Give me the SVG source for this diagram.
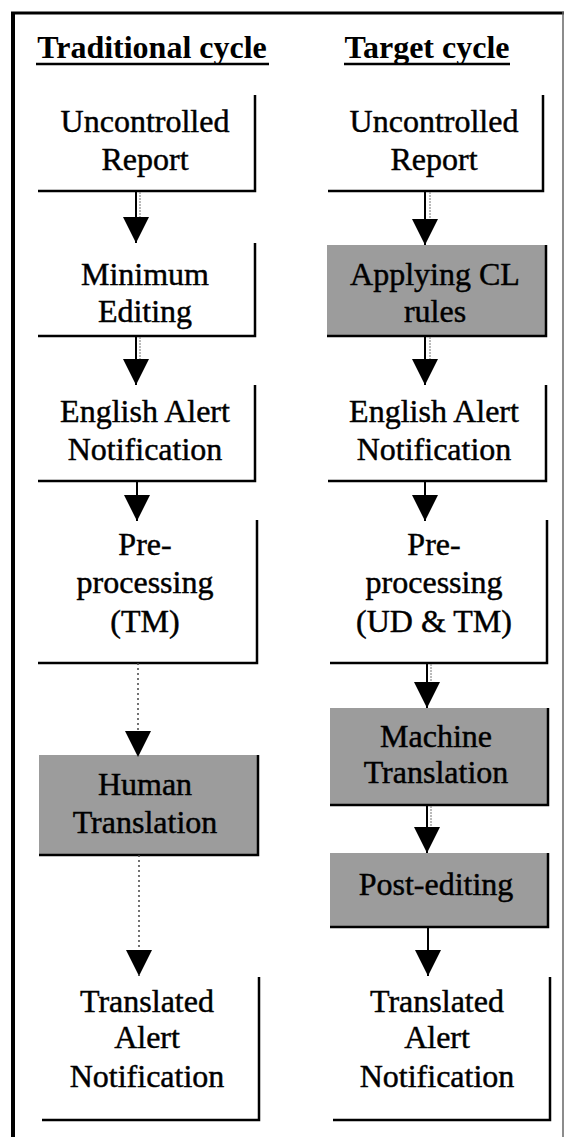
<svg xmlns="http://www.w3.org/2000/svg" width="568" height="1137" viewBox="0 0 568 1137">
  <defs>
    <style>
      .lbl { font-family: "Liberation Serif", "Times New Roman", serif; font-size: 32px; fill: #000; stroke: #000; stroke-width: 0.45; text-anchor: middle; }
      .title { font-family: "Liberation Serif", "Times New Roman", serif; font-size: 32px; font-weight: bold; fill: #000; text-anchor: middle; }
      .rule { stroke: #000; stroke-width: 2.5; }
      .edge { fill: none; stroke: #000; stroke-width: 2.5; }
      .shade { fill: #9c9c9c; stroke: none; }
      .flow { fill: none; stroke: #000; stroke-width: 2; }
      .flow-dot { fill: none; stroke: #444; stroke-width: 1.5; stroke-dasharray: 2 3; }
      .ghost { fill: none; stroke: #777; stroke-width: 1; stroke-dasharray: 2 1; }
    </style>
    <marker id="head" markerUnits="userSpaceOnUse" markerWidth="26" markerHeight="26" viewBox="0 0 26 26" refX="26" refY="13" orient="auto">
      <path d="M0,0 L26,13 L0,26 Z" fill="#000"/>
    </marker>
  </defs>

  <rect width="568" height="1137" fill="#fff"/>

  <!-- outer frame -->
  <g id="frame">
    <line x1="13" y1="12" x2="13" y2="1137" stroke="#000" stroke-width="4"/>
    <line x1="11" y1="13" x2="564" y2="13" stroke="#000" stroke-width="3"/>
    <line x1="563" y1="12" x2="563" y2="1137" stroke="#666" stroke-width="1.5"/>
  </g>

  <!-- column headings -->
  <g id="heading-traditional">
    <text class="title" x="152" y="58">Traditional cycle</text>
    <line class="rule" x1="36" y1="64" x2="269" y2="64"/>
  </g>
  <g id="heading-target">
    <text class="title" x="427" y="58">Target cycle</text>
    <line class="rule" x1="344" y1="64" x2="510" y2="64"/>
  </g>

  <!-- traditional cycle -->
  <g id="t-uncontrolled">
    <path class="edge" d="M255,95 V191 H38"/>
    <text class="lbl" x="145" y="132">Uncontrolled</text>
    <text class="lbl" x="145" y="170">Report</text>
  </g>
  <g id="t-minimum-editing">
    <path class="edge" d="M255,243 V336 H38"/>
    <text class="lbl" x="145" y="285">Minimum</text>
    <text class="lbl" x="145" y="322">Editing</text>
  </g>
  <g id="t-english-alert">
    <path class="edge" d="M255,385 V481 H38"/>
    <text class="lbl" x="145" y="422">English Alert</text>
    <text class="lbl" x="145" y="460">Notification</text>
  </g>
  <g id="t-preprocessing">
    <path class="edge" d="M257,520 V663 H38"/>
    <text class="lbl" x="145" y="555">Pre-</text>
    <text class="lbl" x="145" y="593">processing</text>
    <text class="lbl" x="145" y="632">(TM)</text>
  </g>
  <g id="t-human-translation">
    <rect class="shade" x="39" y="755" width="219" height="100"/>
    <path class="edge" d="M258,755 V855 H39"/>
    <text class="lbl" x="145" y="795">Human</text>
    <text class="lbl" x="145" y="833">Translation</text>
  </g>
  <g id="t-translated">
    <path class="edge" d="M259,977 V1120 H42"/>
    <text class="lbl" x="147" y="1012">Translated</text>
    <text class="lbl" x="147" y="1048">Alert</text>
    <text class="lbl" x="147" y="1087">Notification</text>
  </g>

  <!-- target cycle -->
  <g id="r-uncontrolled">
    <path class="edge" d="M543,95 V191 H328"/>
    <text class="lbl" x="434" y="132">Uncontrolled</text>
    <text class="lbl" x="434" y="170">Report</text>
  </g>
  <g id="r-cl-rules">
    <rect class="shade" x="327" y="245" width="219" height="91"/>
    <path class="edge" d="M546,245 V336 H327"/>
    <text class="lbl" x="435" y="285">Applying CL</text>
    <text class="lbl" x="435" y="322">rules</text>
  </g>
  <g id="r-english-alert">
    <path class="edge" d="M546,385 V481 H328"/>
    <text class="lbl" x="434" y="422">English Alert</text>
    <text class="lbl" x="434" y="460">Notification</text>
  </g>
  <g id="r-preprocessing">
    <path class="edge" d="M547,520 V663 H330"/>
    <text class="lbl" x="434" y="555">Pre-</text>
    <text class="lbl" x="434" y="593">processing</text>
    <text class="lbl" x="434" y="632">(UD &amp; TM)</text>
  </g>
  <g id="r-machine-translation">
    <rect class="shade" x="330" y="708" width="218" height="97"/>
    <path class="edge" d="M548,708 V805 H330"/>
    <text class="lbl" x="436" y="747">Machine</text>
    <text class="lbl" x="436" y="783">Translation</text>
  </g>
  <g id="r-post-editing">
    <rect class="shade" x="330" y="853" width="218" height="74"/>
    <path class="edge" d="M548,853 V927 H330"/>
    <text class="lbl" x="436" y="895">Post-editing</text>
  </g>
  <g id="r-translated">
    <path class="edge" d="M550,977 V1120 H333"/>
    <text class="lbl" x="437" y="1012">Translated</text>
    <text class="lbl" x="437" y="1048">Alert</text>
    <text class="lbl" x="437" y="1087">Notification</text>
  </g>

  <!-- connectors -->
  <g id="connectors">
    <line class="ghost" x1="140" y1="192" x2="140" y2="222"/>
    <line class="ghost" x1="140" y1="337" x2="140" y2="362"/>
    <line class="ghost" x1="430" y1="192" x2="430" y2="222"/>
    <line class="ghost" x1="430" y1="337" x2="430" y2="362"/>
    <line class="ghost" x1="431" y1="664" x2="431" y2="686"/>
    <line class="ghost" x1="431" y1="806" x2="431" y2="830"/>

    <line class="flow" x1="136" y1="191" x2="136" y2="243" marker-end="url(#head)"/>
    <line class="flow" x1="136" y1="336" x2="136" y2="385" marker-end="url(#head)"/>
    <line class="flow" x1="137" y1="481" x2="137" y2="521" marker-end="url(#head)"/>
    <line class="flow-dot" x1="138" y1="663" x2="138" y2="757" marker-end="url(#head)"/>
    <line class="flow-dot" x1="139" y1="855" x2="139" y2="976" marker-end="url(#head)"/>

    <line class="flow" x1="425" y1="191" x2="425" y2="245" marker-end="url(#head)"/>
    <line class="flow" x1="425" y1="336" x2="425" y2="385" marker-end="url(#head)"/>
    <line class="flow" x1="425" y1="481" x2="425" y2="521" marker-end="url(#head)"/>
    <line class="flow" x1="427" y1="663" x2="427" y2="708" marker-end="url(#head)"/>
    <line class="flow" x1="427" y1="805" x2="427" y2="853" marker-end="url(#head)"/>
    <line class="flow" x1="428" y1="927" x2="428" y2="976" marker-end="url(#head)"/>
  </g>
</svg>
